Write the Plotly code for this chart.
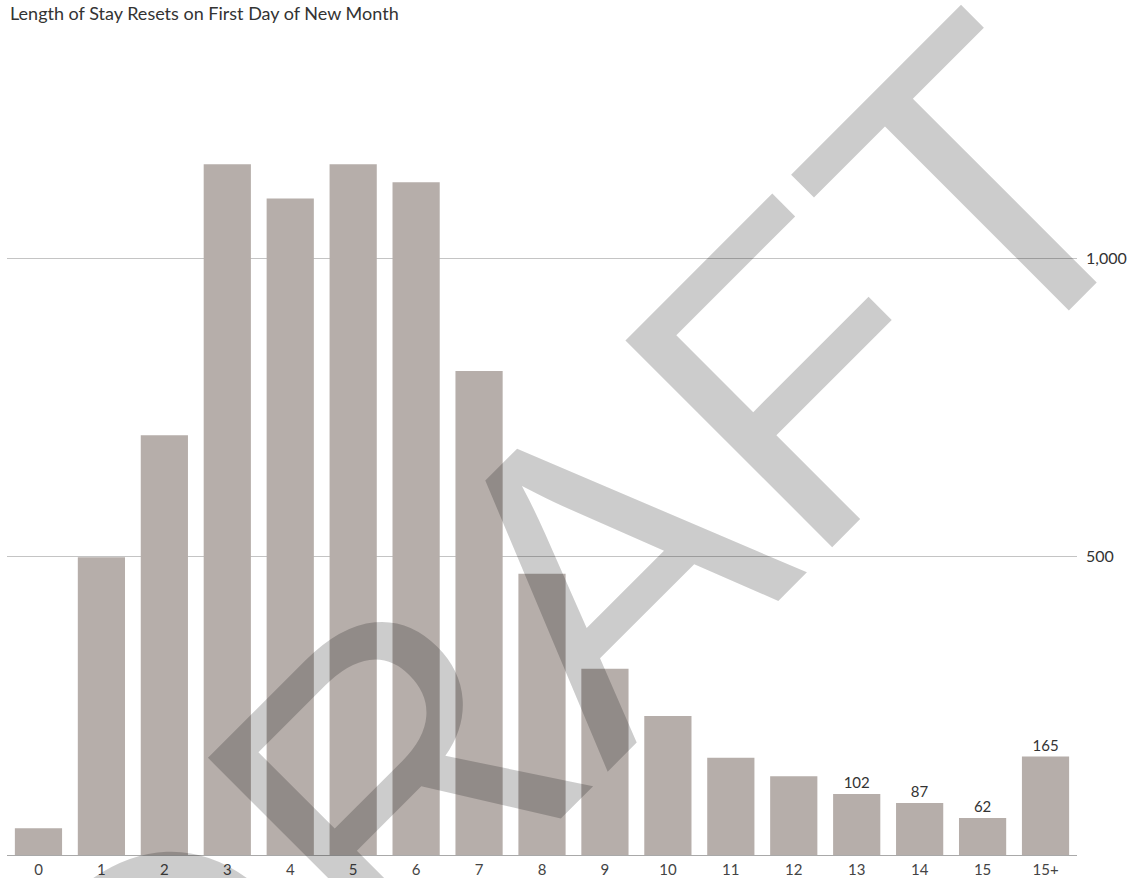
import plotly.graph_objects as go

categories = ["0", "1", "2", "3", "4", "5", "6", "7", "8", "9", "10", "11", "12", "13", "14", "15", "15+"]
values = [45, 499, 703, 1157, 1100, 1157, 1127, 811, 471, 312, 233, 163, 132, 102, 87, 62, 165]
labeled = ["13", "14", "15", "15+"]
label_text = [f"{v:,}" if c in labeled else "" for c, v in zip(categories, values)]

subtitle = "Length of Stay Resets on First Day of New Month"
watermark = "DRAFT"
y_ticks = [500, 1000]

W, H = 1133, 878
L, R, T, B = 7, 56, 79, 23
PW, PH = W - L - R, H - T - B

fig = go.Figure()
fig.add_trace(go.Bar(
    x=categories, y=values,
    marker=dict(color="#b6aeaa", line=dict(width=0)),
    text=label_text, textposition="outside", cliponaxis=False,
    textfont=dict(family="Lato, sans-serif", size=15, color="#333333"),
    hoverinfo="skip",
))

fig.update_layout(
    width=W, height=H,
    margin=dict(l=L, r=R, t=T, b=B, autoexpand=False),
    paper_bgcolor="white", plot_bgcolor="white",
    bargap=0.25, showlegend=False,
    font=dict(family="Lato, sans-serif", color="#333333"),
)
fig.update_xaxes(
    type="category", showgrid=False, showline=True, linecolor="#a9a9a9", linewidth=1,
    ticks="", automargin=False,
    tickfont=dict(family="Lato, sans-serif", size=15, color="#444444"),
    ticklabelstandoff=1,
)
fig.update_yaxes(
    side="right", range=[0, 1300], tickvals=y_ticks, tickformat=",d",
    showgrid=True, gridcolor="#c4c4c4", gridwidth=1, zeroline=False, showline=False,
    ticks="", automargin=False,
    tickfont=dict(family="Lato, sans-serif", size=16, color="#333333"),
    ticklabelstandoff=8,
)

# subtitle
fig.add_annotation(
    text=subtitle, xref="paper", yref="paper",
    x=(8 - L) / PW, y=(H - B - 13) / PH,
    xanchor="left", yanchor="middle", showarrow=False,
    font=dict(family="Lato, sans-serif", size=18, color="#333333"),
)

# DRAFT watermark
cx, cy = 569, 601
fig.add_annotation(
    text=watermark, xref="paper", yref="paper",
    x=(cx - L) / PW, y=(H - B - cy) / PH,
    xanchor="center", yanchor="middle", showarrow=False, textangle=-45,
    font=dict(family="Liberation Sans, Arial, sans-serif", size=425, color="rgba(0,0,0,0.2)"),
)

fig.write_html("out.html")
